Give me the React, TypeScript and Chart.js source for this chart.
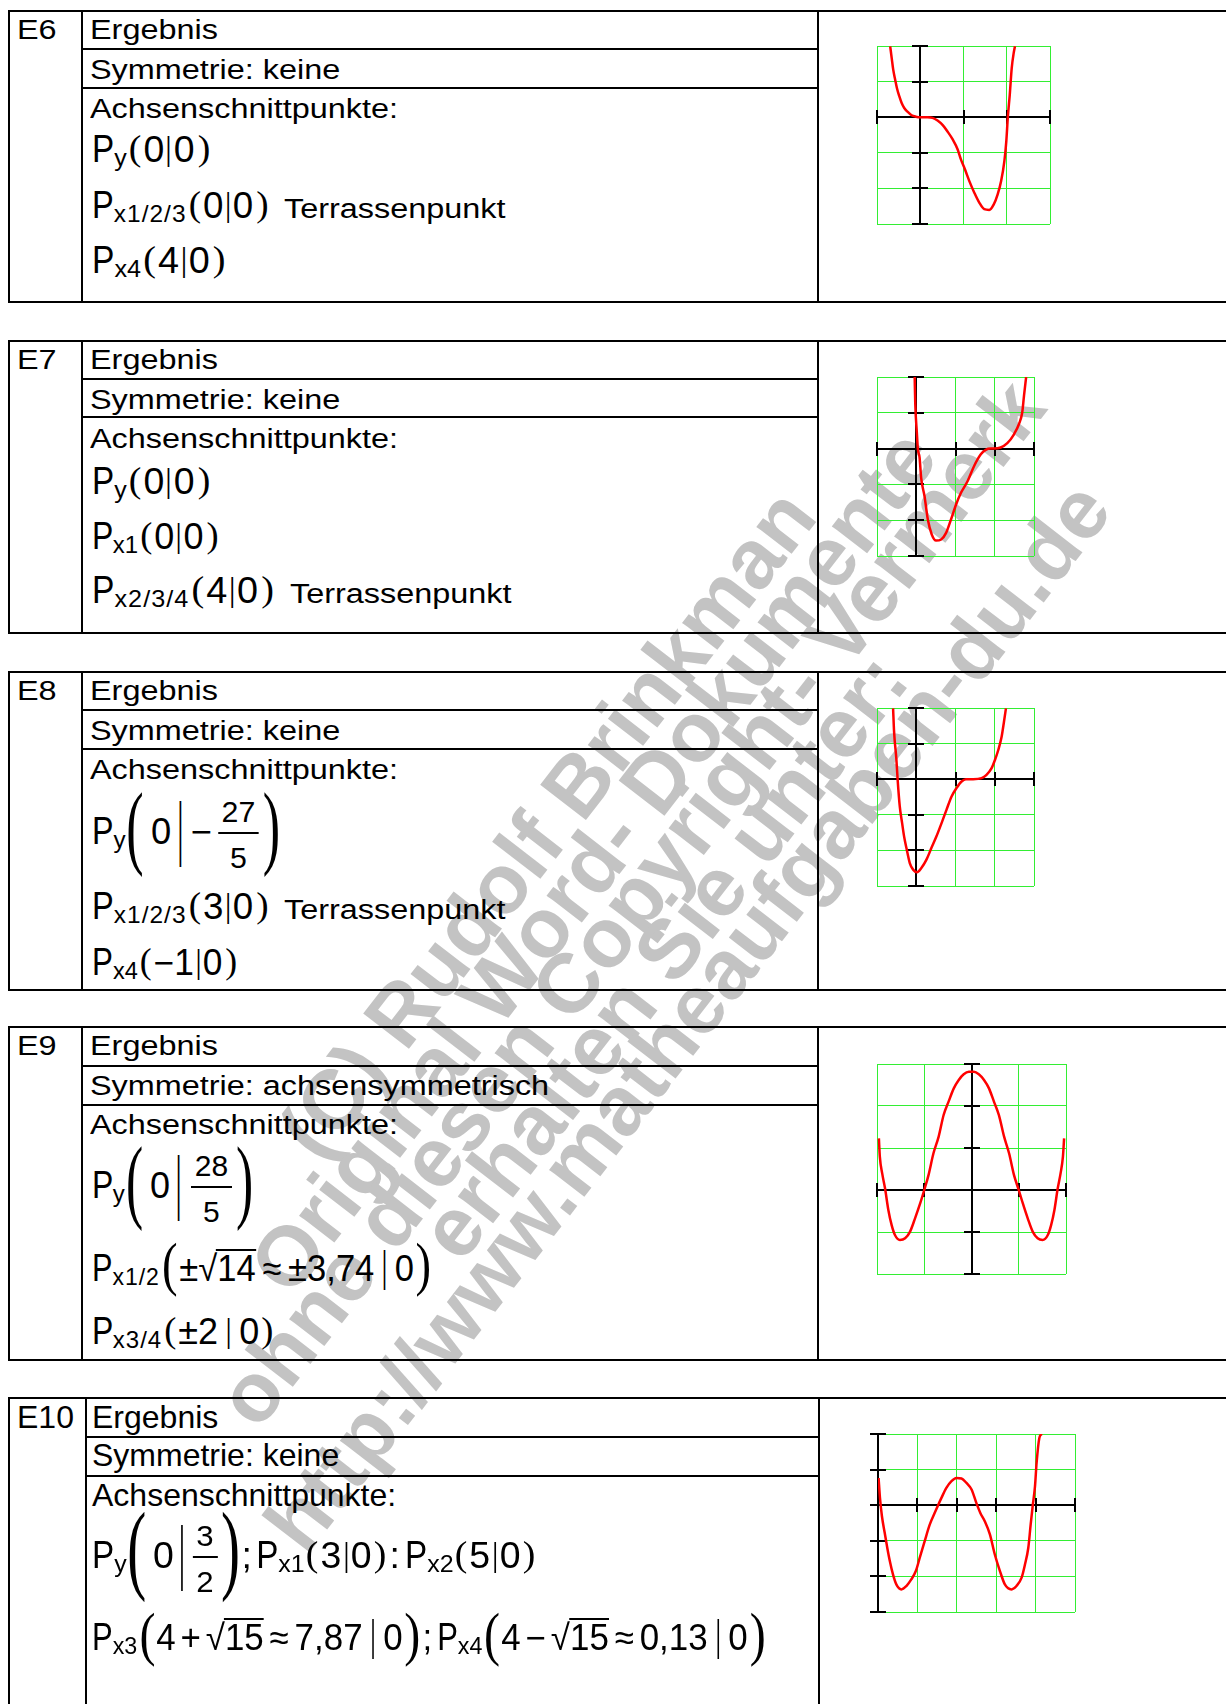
import React, { useEffect, useRef } from "react";
import { Chart, registerables } from "chart.js";
Chart.register(...registerables);

// ---------------- data ----------------
const GRID_STEP = 2;

const E6_XRANGE = [-2, 6];
const E6_YRANGE = [-6, 4];
const E6_X = [-1.39, -1.32, -1.25, -1.16, -1.08, -0.97, -0.86, -0.74, -0.58, -0.4, -0.2, 0, 0.34, 0.57, 0.8, 1.04, 1.27, 1.5, 1.73, 1.88, 2.07, 2.27, 2.5, 2.73, 2.96, 3.19, 3.4, 3.58, 3.74, 3.89, 3.98, 4.05, 4.14, 4.23, 4.32, 4.38];
const E6_Y = [3.98, 3.32, 2.67, 2.11, 1.64, 1.18, 0.8, 0.52, 0.3, 0.11, 0.03, 0, 0, -0.04, -0.19, -0.45, -0.82, -1.25, -1.81, -2.37, -2.94, -3.59, -4.24, -4.8, -5.17, -5.21, -4.9, -4.34, -3.59, -2.47, -1.34, 0, 1.27, 2.76, 3.6, 3.98];

const E7_XRANGE = [-2, 6];
const E7_YRANGE = [-6, 4];
const E7_X = [-0.08, -0.05, 0.03, 0.08, 0.17, 0.25, 0.42, 0.59, 0.79, 1.01, 1.27, 1.52, 1.77, 2.03, 2.28, 2.62, 2.95, 3.29, 3.54, 3.8, 3.97, 4.3, 4.64, 4.98, 5.23, 5.4, 5.49, 5.6];
const E7_Y = [4.0, 2.49, 0.9, 0, -0.5, -1.63, -2.65, -3.96, -4.8, -5.14, -5.08, -4.71, -3.96, -3.12, -2.47, -1.81, -0.97, -0.32, -0.07, 0, 0, 0.06, 0.3, 0.8, 1.36, 2.02, 2.95, 4.0];

const E8_XRANGE = [-2, 6];
const E8_YRANGE = [-6, 4];
const E8_X = [-1.18, -1.13, -1.01, -0.95, -0.84, -0.72, -0.62, -0.5, -0.33, -0.16, 0.04, 0.26, 0.52, 0.77, 1.03, 1.29, 1.54, 1.8, 2.05, 2.31, 2.53, 2.9, 3.33, 3.58, 3.84, 4.01, 4.18, 4.35, 4.47, 4.57];
const E8_Y = [3.98, 2.67, 1.08, 0, -1.53, -2.47, -3.21, -3.87, -4.71, -5.08, -5.23, -4.99, -4.52, -3.87, -3.21, -2.47, -1.72, -0.97, -0.5, -0.13, 0, 0, 0.06, 0.24, 0.62, 1.08, 1.64, 2.39, 3.23, 3.98];

const E9_XRANGE = [-4, 4];
const E9_YRANGE = [-4, 6];
const E9_X = [-3.92, -3.88, -3.78, -3.66, -3.52, -3.38, -3.24, -3.03, -2.81, -2.6, -2.39, -2.17, -2.0, -1.82, -1.61, -1.39, -1.18, -0.97, -0.75, -0.54, -0.33, -0.11, 0.1, 0.31, 0.53, 0.74, 0.95, 1.16, 1.38, 1.59, 1.8, 2.0, 2.17, 2.38, 2.59, 2.8, 3.01, 3.23, 3.37, 3.51, 3.65, 3.77, 3.87, 3.92];
const E9_Y = [2.46, 1.59, 0.79, 0.08, -0.95, -1.67, -2.14, -2.38, -2.3, -1.98, -1.35, -0.63, 0, 0.71, 1.75, 2.54, 3.57, 4.21, 4.84, 5.24, 5.51, 5.63, 5.63, 5.51, 5.24, 4.84, 4.21, 3.57, 2.54, 1.75, 0.71, 0, -0.63, -1.35, -1.98, -2.3, -2.38, -2.14, -1.67, -0.95, 0.08, 0.79, 1.59, 2.46];

const E10_XRANGE = [0, 10];
const E10_YRANGE = [-6, 4];
const E10_X = [0.03, 0.1, 0.2, 0.34, 0.47, 0.6, 0.76, 0.93, 1.19, 1.44, 1.69, 1.92, 2.12, 2.37, 2.63, 2.88, 3.05, 3.22, 3.47, 3.73, 3.98, 4.24, 4.49, 4.75, 5.0, 5.2, 5.42, 5.68, 5.93, 6.19, 6.44, 6.78, 7.03, 7.29, 7.46, 7.63, 7.75, 7.85, 7.97, 8.05, 8.19, 8.31];
const E10_Y = [1.53, 0.41, -0.62, -1.55, -2.39, -3.14, -3.89, -4.45, -4.73, -4.54, -4.17, -3.7, -2.95, -2.02, -1.08, -0.43, 0, 0.41, 0.97, 1.35, 1.53, 1.5, 1.25, 0.88, 0.1, -0.45, -0.9, -1.64, -2.77, -3.7, -4.45, -4.73, -4.54, -4.07, -3.33, -2.39, -1.08, -0.06, 1.07, 2.37, 3.78, 4.0];

const WATERMARK = [
  "(C) Rudolf Brinkman",
  "Original Word- Dokumente",
  "ohne diesen Copyright- Vermerk",
  "erhalten Sie unter:",
  "http://www.matheaufgaben-du.de",
];

// ---------------- styling / layout ----------------
const SANS = '"Liberation Sans", Arial, Helvetica, sans-serif';
const SERIF = '"Liberation Serif", "Times New Roman", Times, serif';
const KS = 0.3465; // baseline offset in a zero line-height box (sans)
const KR = 0.3375; // same for serif
const AX = 11; // math axis above baseline
const DF = 36; // formula digit size
const GREEN = "#33ee33";
const RED = "#ff0000";
const PAD = 12;
const TXT = 27; // body text size E6..E9
const TSX = 1.2; // horizontal stretch of body text E6..E9

const WM_POS = [
  [320, 1164],
  [291, 1299],
  [258, 1432],
  [461, 1265],
  [306, 1557],
];

// ---------------- chart ----------------
const axesPlugin = {
  id: "mcAxes",
  beforeDatasetsDraw(chart: any) {
    const { ctx, scales } = chart;
    const xs = scales.x;
    const ys = scales.y;
    const x0 = Math.round(xs.getPixelForValue(0));
    const y0 = Math.round(ys.getPixelForValue(0));
    ctx.save();
    ctx.strokeStyle = "#000";
    ctx.lineWidth = 2;
    ctx.lineCap = "butt";
    const ln = (a: number, b: number, c: number, d: number) => {
      ctx.beginPath();
      ctx.moveTo(a, b);
      ctx.lineTo(c, d);
      ctx.stroke();
    };
    ln(xs.left, y0, xs.right, y0);
    ln(x0, ys.top, x0, ys.bottom);
    xs.ticks.forEach((t: any) => {
      const px = Math.round(xs.getPixelForValue(t.value));
      ln(px, y0 - 7, px, y0 + 7);
    });
    ys.ticks.forEach((t: any) => {
      const py = Math.round(ys.getPixelForValue(t.value));
      ln(x0 - 8, py, x0 + 8, py);
    });
    ctx.restore();
  },
};

function Plot({ xs, ys, xr, yr, box }: any) {
  const ref = useRef<HTMLCanvasElement>(null);
  useEffect(() => {
    const data = xs.map((x: number, i: number) => ({ x, y: ys[i] }));
    const chart = new Chart(ref.current as HTMLCanvasElement, {
      type: "scatter",
      data: {
        datasets: [
          {
            data,
            showLine: true,
            borderColor: RED,
            borderWidth: 2.5,
            pointRadius: 0,
            fill: false,
            cubicInterpolationMode: "monotone",
          } as any,
        ],
      },
      options: {
        animation: false,
        responsive: false,
        events: [],
        layout: { padding: PAD },
        plugins: { legend: { display: false }, tooltip: { enabled: false } },
        scales: {
          x: {
            type: "linear",
            min: xr[0],
            max: xr[1],
            ticks: { stepSize: GRID_STEP, display: false },
            grid: { color: GREEN, lineWidth: 1, drawTicks: false },
            border: { display: false },
          },
          y: {
            type: "linear",
            min: yr[0],
            max: yr[1],
            ticks: { stepSize: GRID_STEP, display: false },
            grid: { color: GREEN, lineWidth: 1, drawTicks: false },
            border: { display: false },
          },
        },
      } as any,
      plugins: [axesPlugin],
    });
    return () => chart.destroy();
  }, []);
  return (
    <canvas
      ref={ref}
      width={box.w + 2 * PAD}
      height={box.h + 2 * PAD}
      style={{ position: "absolute", left: box.x - PAD, top: box.y - PAD, width: box.w + 2 * PAD, height: box.h + 2 * PAD }}
    />
  );
}

// ---------------- typesetting helpers ----------------
function G({ t, f = DF, serif = false, dy = 0, ml = 0, mr = 0, sx = 1, adv = 0, ls = 0 }: any) {
  const k = serif ? KR : KS;
  const st: any = {
    display: "block",
    flex: "none",
    fontFamily: serif ? SERIF : SANS,
    fontSize: f,
    lineHeight: 0,
    marginTop: -k * f + dy,
    marginLeft: ml,
    marginRight: mr,
    whiteSpace: "pre",
  };
  if (ls) st.letterSpacing = ls;
  if (sx !== 1) {
    st.transform = `scaleX(${sx})`;
    st.transformOrigin = "left center";
    st.marginRight = mr - (1 - sx) * adv * f;
  }
  return <span style={st}>{t}</span>;
}

function Pn({ sub, ml = 0 }: any) {
  return (
    <>
      <G t="P" f={39} sx={0.82} adv={0.667} ml={ml} />
      <G t={sub} f={24} dy={4.5} ls={sub.length > 2 ? 1 : 0} />
    </>
  );
}

function BP({ c, h = 31, sx = 1, ml = 0, mr = 0 }: any) {
  const F = h / 0.853;
  return <G t={c} f={F} serif sx={sx} adv={0.333} ml={ml} mr={mr} dy={0.2495 * F - AX} />;
}

function Bar({ h = 32, ml = 2, mr = 2 }: any) {
  const F = h / 0.94;
  const sx = Math.min(1, 20 / F);
  return <G t="|" f={F} sx={sx} adv={0.26} ml={ml} mr={mr} dy={0.26 * F - AX} />;
}

function Frac({ num, den, f = 30, ml = 0, numBase = -22, barY = -AX, denBase = 24.3, pad = 3.5 }: any) {
  return (
    <span
      style={{
        display: "block",
        flex: "none",
        position: "relative",
        fontFamily: SANS,
        fontSize: f,
        lineHeight: 0,
        marginTop: -KS * f + numBase,
        marginLeft: ml,
        padding: `0 ${pad}px`,
        whiteSpace: "pre",
        textAlign: "center",
      }}
    >
      {num}
      <span style={{ position: "absolute", left: 0, right: 0, top: barY - numBase + KS * f - 0.75, height: 1.5, background: "#000" }} />
      <span style={{ position: "absolute", left: 0, right: 0, top: denBase - numBase, lineHeight: 0, textAlign: "center" }}>{den}</span>
    </span>
  );
}

function Sqrt({ t, f = DF, ml = 0 }: any) {
  return (
    <>
      <G t={"\u221A"} f={f} ml={ml} />
      <span
        style={{
          display: "block",
          flex: "none",
          position: "relative",
          fontFamily: SANS,
          fontSize: f,
          lineHeight: 0,
          marginTop: -KS * f,
          whiteSpace: "pre",
        }}
      >
        {t}
        <span style={{ position: "absolute", left: -1, right: 0, top: KS * f - 32, height: 1.5, background: "#000" }} />
      </span>
    </>
  );
}

function FRow({ x = 91.5, base, sx = 1, children }: any) {
  return (
    <div
      style={{
        position: "absolute",
        left: x,
        top: base,
        display: "flex",
        alignItems: "flex-start",
        width: "max-content",
        transform: sx !== 1 ? `scaleX(${sx})` : undefined,
        transformOrigin: "left top",
        color: "#000",
      }}
    >
      {children}
    </div>
  );
}

function Txt({ x, base, fs = TXT, sx = TSX, children }: any) {
  return (
    <div
      style={{
        position: "absolute",
        left: x,
        top: base - KS * fs,
        fontFamily: SANS,
        fontSize: fs,
        lineHeight: 0,
        whiteSpace: "pre",
        color: "#000",
        transform: sx !== 1 ? `scaleX(${sx})` : undefined,
        transformOrigin: "left top",
      }}
    >
      {children}
    </div>
  );
}

function HL({ x1, x2, y }: any) {
  return <div style={{ position: "absolute", left: x1, top: y - 1, width: x2 - x1, height: 2, background: "#000" }} />;
}
function VL({ x, y1, y2 }: any) {
  return <div style={{ position: "absolute", left: x - 1, top: y1 - 1, width: 2, height: y2 - y1 + 2, background: "#000" }} />;
}

function Frame({ top, r1, r2, bottom, col = 82, right = 817.5 }: any) {
  const b = bottom ?? 1710;
  return (
    <>
      <HL x1={8} x2={1226} y={top} />
      {bottom != null && <HL x1={8} x2={1226} y={bottom} />}
      <VL x={9} y1={top} y2={b} />
      <VL x={col} y1={top} y2={b} />
      <VL x={right} y1={top} y2={b} />
      <HL x1={col} x2={right} y={r1} />
      <HL x1={col} x2={right} y={r2} />
    </>
  );
}

function Header({ label, top, sym, big = false }: any) {
  if (big) {
    return (
      <>
        <Txt x={17} base={top + 29.8} fs={32} sx={1}>{label}</Txt>
        <Txt x={92} base={top + 29.8} fs={32} sx={1}>Ergebnis</Txt>
        <Txt x={92} base={top + 68} fs={32} sx={1}>{sym}</Txt>
        <Txt x={92} base={top + 108} fs={32} sx={1}>Achsenschnittpunkte:</Txt>
      </>
    );
  }
  return (
    <>
      <Txt x={17} base={top + 28.3}>{label}</Txt>
      <Txt x={89.5} base={top + 28.3}>Ergebnis</Txt>
      <Txt x={89.5} base={top + 68.3}>{sym}</Txt>
      <Txt x={89.5} base={top + 107.3}>Achsenschnittpunkte:</Txt>
    </>
  );
}

function Pt({ sub, a, b, base, sx = 1.03 }: any) {
  return (
    <FRow base={base} sx={sx}>
      <Pn sub={sub} />
      <BP c="(" ml={2} />
      <G t={a} ml={2} />
      <Bar />
      <G t={b} />
      <BP c=")" ml={3} />
    </FRow>
  );
}

export default function App() {
  return (
    <div style={{ position: "absolute", left: 0, top: 0, width: 1226, height: 1704, overflow: "hidden", background: "#fff" }}>
      {/* watermark */}
      {WATERMARK.map((s, i) => (
        <div
          key={i}
          style={{
            position: "absolute",
            left: WM_POS[i][0],
            top: WM_POS[i][1] - KS * 84,
            fontFamily: SANS,
            fontWeight: 700,
            fontSize: 84,
            lineHeight: 0,
            whiteSpace: "pre",
            color: "#c3c3c3",
            transform: "rotate(-52.3deg)",
            transformOrigin: `0px ${KS * 84}px`,
          }}
        >
          {s}
        </div>
      ))}

      {/* E6 */}
      <Frame top={11} r1={49} r2={88} bottom={302} />
      <Header label="E6" top={11} sym="Symmetrie: keine" />
      <Pt sub="y" a="0" b="0" base={162} sx={1.04} />
      <Pt sub="x1/2/3" a="0" b="0" base={218} sx={1.02} />
      <Txt x={284} base={218}>Terrassenpunkt</Txt>
      <Pt sub="x4" a="4" b="0" base={273} sx={1.05} />

      {/* E7 */}
      <Frame top={341} r1={379} r2={417} bottom={633} />
      <Header label="E7" top={341} sym="Symmetrie: keine" />
      <Pt sub="y" a="0" b="0" base={494} sx={1.04} />
      <Pt sub="x1" a="0" b="0" base={549} sx={1.0} />
      <Pt sub="x2/3/4" a="4" b="0" base={603} sx={1.05} />
      <Txt x={290} base={603}>Terrassenpunkt</Txt>

      {/* E8 */}
      <Frame top={672} r1={710} r2={749} bottom={990} />
      <Header label="E8" top={672} sym="Symmetrie: keine" />
      <FRow base={844} sx={1.01}>
        <Pn sub="y" />
        <BP c="(" h={80} sx={0.55} ml={1} />
        <G t="0" ml={7} />
        <Bar h={67} ml={6} mr={2} />
        <G t={"\u2212"} ml={6} />
        <Frac num="27" den="5" ml={6} />
        <BP c=")" h={80} sx={0.55} ml={4} />
      </FRow>
      <Pt sub="x1/2/3" a="3" b="0" base={919} sx={1.02} />
      <Txt x={284} base={919}>Terrassenpunkt</Txt>
      <Pt sub="x4" a={"\u22121"} b="0" base={975} sx={0.98} />

      {/* E9 */}
      <Frame top={1027} r1={1066} r2={1105} bottom={1360} />
      <Header label="E9" top={1027} sym="Symmetrie: achsensymmetrisch" />
      <FRow base={1198}>
        <Pn sub="y" />
        <BP c="(" h={80} sx={0.55} ml={1} />
        <G t="0" ml={7} />
        <Bar h={67} ml={6} mr={0} />
        <Frac num="28" den="5" ml={10} />
        <BP c=")" h={80} sx={0.55} ml={4} />
      </FRow>
      <FRow base={1281} sx={0.96}>
        <Pn sub="x1/2" />
        <BP c="(" h={50} sx={0.83} ml={2} />
        <G t={"\u00B1"} ml={2} />
        <Sqrt t="14" />
        <G t={"\u2248"} ml={7} />
        <G t={"\u00B13,74"} ml={7} />
        <Bar h={40} ml={8} mr={8} />
        <G t="0" />
        <BP c=")" h={50} sx={0.83} ml={2} />
      </FRow>
      <FRow base={1344} sx={1.0}>
        <Pn sub="x3/4" />
        <BP c="(" ml={2} />
        <G t={"\u00B1"} ml={2} />
        <G t="2" />
        <Bar ml={8} mr={8} />
        <G t="0" />
        <BP c=")" ml={2} />
      </FRow>

      {/* E10 */}
      <Frame top={1398} r1={1437} r2={1476} col={85.5} right={818.5} />
      <Header label="E10" top={1398} sym="Symmetrie: keine" big />
      <FRow base={1568} sx={1.04}>
        <Pn sub="y" />
        <BP c="(" h={85} sx={0.55} ml={1} />
        <G t="0" ml={6} />
        <Bar h={67} ml={5} mr={0} />
        <Frac num="3" den="2" ml={8} />
        <BP c=")" h={85} sx={0.55} ml={3} />
        <G t=";" ml={2} />
        <Pn sub="x1" ml={4} />
        <BP c="(" ml={1} />
        <G t="3" ml={2} />
        <Bar />
        <G t="0" />
        <BP c=")" ml={2} />
        <G t=":" ml={3} />
        <Pn sub="x2" ml={5} />
        <BP c="(" ml={1} />
        <G t="5" ml={2} />
        <Bar />
        <G t="0" />
        <BP c=")" ml={2} />
      </FRow>
      <FRow base={1650} sx={0.97}>
        <Pn sub="x3" />
        <BP c="(" h={51} sx={0.83} ml={2} />
        <G t="4" ml={1} />
        <G t="+" ml={5} />
        <Sqrt t="15" ml={5} />
        <G t={"\u2248"} ml={6} />
        <G t="7,87" ml={6} />
        <Bar h={40} ml={8} mr={8} />
        <G t="0" />
        <BP c=")" h={51} sx={0.83} ml={2} />
        <G t=";" ml={2} />
        <Pn sub="x4" ml={5} />
        <BP c="(" h={51} sx={0.83} ml={2} />
        <G t="4" ml={1} />
        <G t={"\u2212"} ml={5} />
        <Sqrt t="15" ml={5} />
        <G t={"\u2248"} ml={6} />
        <G t="0,13" ml={6} />
        <Bar h={40} ml={8} mr={8} />
        <G t="0" />
        <BP c=")" h={51} sx={0.83} ml={2} />
      </FRow>

      {/* charts */}
      <Plot xs={E6_X} ys={E6_Y} xr={E6_XRANGE} yr={E6_YRANGE} box={{ x: 877, y: 46, w: 173, h: 178 }} />
      <Plot xs={E7_X} ys={E7_Y} xr={E7_XRANGE} yr={E7_YRANGE} box={{ x: 877, y: 377, w: 157, h: 179 }} />
      <Plot xs={E8_X} ys={E8_Y} xr={E8_XRANGE} yr={E8_YRANGE} box={{ x: 877, y: 708, w: 157, h: 178 }} />
      <Plot xs={E9_X} ys={E9_Y} xr={E9_XRANGE} yr={E9_YRANGE} box={{ x: 877, y: 1064, w: 189, h: 210 }} />
      <Plot xs={E10_X} ys={E10_Y} xr={E10_XRANGE} yr={E10_YRANGE} box={{ x: 878, y: 1434, w: 197, h: 178 }} />
    </div>
  );
}
